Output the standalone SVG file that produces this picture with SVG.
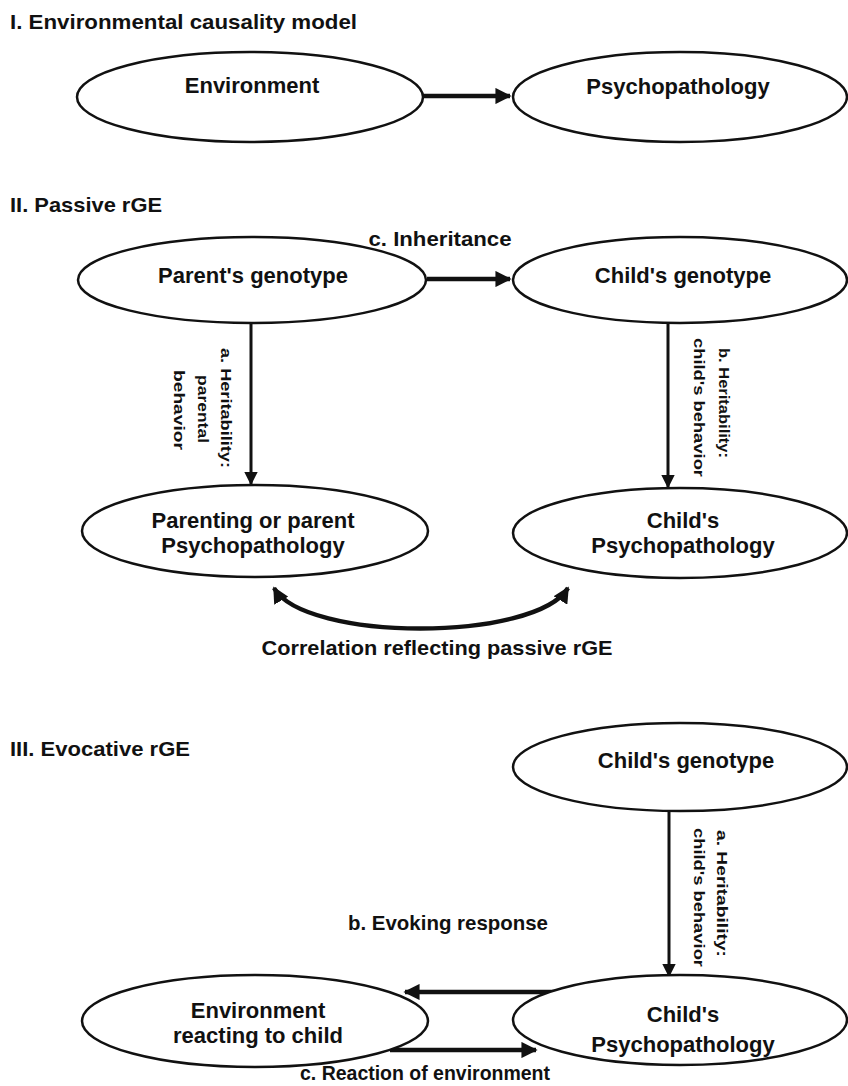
<svg xmlns="http://www.w3.org/2000/svg" width="848" height="1086" viewBox="0 0 848 1086">
<defs>
<style>
.t{font-family:"Liberation Sans",Arial,sans-serif;font-weight:bold;fill:#111}
.n{font-size:22px;text-anchor:middle}
.h{font-size:21px}
.r{font-size:15px}
.e{fill:#fff;stroke:#111;stroke-width:2.5}
.c{fill:none;stroke:#111;stroke-width:4.5}
.v{fill:none;stroke:#111;stroke-width:3}
</style>
<marker id="ah" viewBox="0 0 10 10" refX="9" refY="5" markerWidth="3.6" markerHeight="3.6" orient="auto-start-reverse" markerUnits="strokeWidth"><path d="M0,0 L10,5 L0,10 z" fill="#111"/></marker>
<marker id="av" viewBox="0 0 10 10" refX="9" refY="5" markerWidth="4.5" markerHeight="4.5" orient="auto" markerUnits="strokeWidth"><path d="M0,0 L10,5 L0,10 z" fill="#111"/></marker>
</defs>
<rect width="848" height="1086" fill="#fff"/>
<text class="t h" x="10" y="29" textLength="347" lengthAdjust="spacingAndGlyphs">I. Environmental causality model</text>
<text class="t h" x="10" y="212" textLength="152" lengthAdjust="spacingAndGlyphs">II. Passive rGE</text>
<text class="t h" x="10" y="756" textLength="180" lengthAdjust="spacingAndGlyphs">III. Evocative rGE</text>

<g id="connectors">
<line class="c" x1="423" y1="96" x2="510" y2="96" marker-end="url(#ah)"/>
<line class="c" x1="427" y1="279" x2="510" y2="279" marker-end="url(#ah)"/>
<line class="v" x1="251" y1="323" x2="251" y2="484" marker-end="url(#av)"/>
<line class="v" x1="668" y1="323" x2="668" y2="487" marker-end="url(#av)"/>
<path class="c" d="M274,588 C305,642 535,642 568,588" marker-start="url(#ah)" marker-end="url(#ah)"/>
<line class="v" x1="669" y1="812" x2="669" y2="976" marker-end="url(#av)"/>
<line class="c" x1="564" y1="992" x2="405" y2="992" marker-end="url(#ah)"/>
<line class="c" x1="390" y1="1050" x2="536" y2="1050" marker-end="url(#ah)"/>
<text class="t" x="440" y="246" font-size="21" text-anchor="middle" textLength="143" lengthAdjust="spacingAndGlyphs">c. Inheritance</text>
<text class="t" x="437" y="655" font-size="21" text-anchor="middle" textLength="351" lengthAdjust="spacingAndGlyphs">Correlation  reflecting passive rGE</text>
<text class="t" x="448" y="930" font-size="21" text-anchor="middle" textLength="200" lengthAdjust="spacingAndGlyphs">b. Evoking response</text>
<text class="t" x="425" y="1080" font-size="21" text-anchor="middle" textLength="250" lengthAdjust="spacingAndGlyphs">c. Reaction of environment</text>
<text class="t r" transform="translate(221,348) rotate(90)" textLength="120" lengthAdjust="spacingAndGlyphs">a. Heritability:</text>
<text class="t r" transform="translate(198,375) rotate(90)" textLength="68" lengthAdjust="spacingAndGlyphs">parental</text>
<text class="t r" transform="translate(174,370) rotate(90)" textLength="80" lengthAdjust="spacingAndGlyphs">behavior</text>
<text class="t r" transform="translate(719,348) rotate(90)" textLength="110" lengthAdjust="spacingAndGlyphs">b. Heritability:</text>
<text class="t r" transform="translate(694,338) rotate(90)" textLength="139" lengthAdjust="spacingAndGlyphs">child's behavior</text>
<text class="t r" transform="translate(717,830) rotate(90)" textLength="127" lengthAdjust="spacingAndGlyphs">a. Heritability:</text>
<text class="t r" transform="translate(694,828) rotate(90)" textLength="139" lengthAdjust="spacingAndGlyphs">child's behavior</text>
</g>

<g id="n-env"><ellipse class="e" cx="250" cy="97" rx="173" ry="45"/><text class="t n" x="252" y="93">Environment</text></g>
<g id="n-psy"><ellipse class="e" cx="680" cy="97" rx="167" ry="45"/><text class="t n" x="678" y="94">Psychopathology</text></g>

<g id="n-pgen"><ellipse class="e" cx="252" cy="280" rx="174" ry="43"/><text class="t n" x="253" y="283">Parent's genotype</text></g>
<g id="n-cgen"><ellipse class="e" cx="680" cy="280" rx="167" ry="43"/><text class="t n" x="683" y="283">Child's genotype</text></g>
<g id="n-ppsy"><ellipse class="e" cx="255" cy="531" rx="173" ry="46"/><text class="t n" x="253" y="528">Parenting or parent</text><text class="t n" x="253" y="553">Psychopathology</text></g>
<g id="n-cpsy"><ellipse class="e" cx="680" cy="533" rx="167" ry="45"/><text class="t n" x="683" y="528">Child's</text><text class="t n" x="683" y="553">Psychopathology</text></g>

<g id="n-cgen3"><ellipse class="e" cx="680" cy="767" rx="167" ry="44"/><text class="t n" x="686" y="768">Child's genotype</text></g>
<g id="n-envr"><ellipse class="e" cx="255" cy="1021" rx="173" ry="46"/><text class="t n" x="258" y="1018">Environment</text><text class="t n" x="258" y="1043">reacting to child</text></g>
<g id="n-cpsy3"><ellipse class="e" cx="680" cy="1020" rx="167" ry="45"/><text class="t n" x="683" y="1022">Child's</text><text class="t n" x="683" y="1052">Psychopathology</text></g>
</svg>
